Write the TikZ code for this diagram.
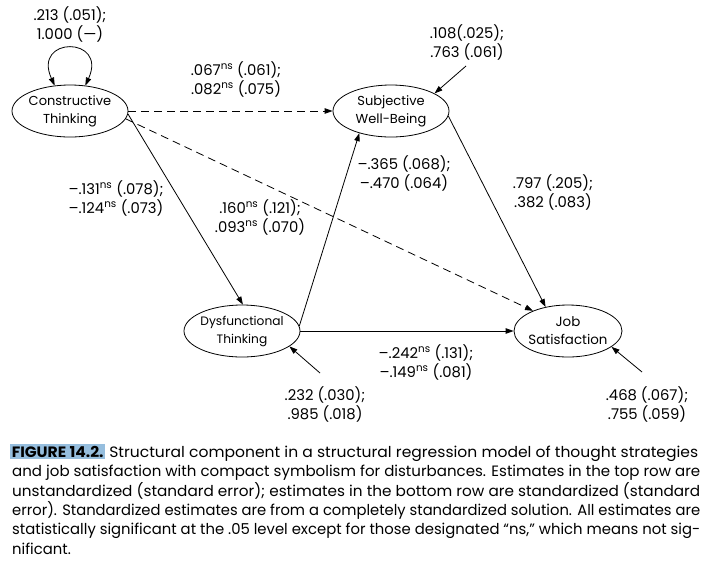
\documentclass[tikz,border=0pt]{standalone}
\usepackage{fontspec}
\setmainfont{Poppins}
\usepackage{graphicx}
\usetikzlibrary{arrows.meta,shapes.geometric}
\definecolor{figblue}{RGB}{150,190,222}
\newcommand\nsup{\textsuperscript{ns}}
\newcommand\capfont{\fontsize{15}{19}\selectfont}
\newcommand\capline[1]{\resizebox{688pt}{\height}{\capfont\strut #1}}
\newlength\capw
\begin{document}
\settowidth\capw{\capfont statistically significant at the .05 level except for those designated “ns,” which means not sig-}
\pgfmathsetmacro\capscale{688/\capw}
\begin{tikzpicture}[x=1pt,y=-1pt,
  lv/.style={ellipse,draw,line width=0.8pt,minimum width=116pt,minimum height=52pt,
    inner xsep=-16pt,inner ysep=-6pt,align=center,font=\fontsize{13}{18}\selectfont},
  lab/.style={align=center,inner sep=0pt,font=\fontsize{14.8}{19}\selectfont},
  arr/.style={line width=0.8pt,-{Triangle[length=8pt,width=5.5pt]}},
  arrb/.style={line width=0.8pt,{Triangle[length=8pt,width=5.5pt]}-{Triangle[length=8pt,width=5.5pt]}},
  dsh/.style={dash pattern=on 8pt off 5pt},
  capl/.style={anchor=base west,inner sep=0pt}]
\useasboundingbox (0,0) rectangle (712,566);
% latent variables
\node[lv] (ct) at (70,111) {Constructive\\Thinking};
\node[lv] (sw) at (391,111) {Subjective\\Well-Being};
\node[lv,font=\fontsize{12.2}{18}\selectfont] (dt) at (242,331) {Dysfunctional\\Thinking};
\node[lv,minimum width=108pt,font=\fontsize{13.4}{18}\selectfont] (js) at (568,331) {Job\\Satisfaction};
% paths
\draw[arrb] (ct.121) .. controls (32,36) and (108,36) .. (ct.59);
\draw[arr,dsh] (ct.east) -- (sw.west);
\draw[arr,dsh] (ct.-8) -- (js.150);
\draw[arr] (ct.-3) -- (dt.88);
\draw[arr] (dt.5) -- (sw.-145);
\draw[arr] (dt.east) -- (js.west);
\draw[arr] (sw.-5) -- (js.133);
% disturbances
\coordinate (dsw) at (466,66);
\coordinate (ddt) at (320,373);
\coordinate (djs) at (642,372);
\draw[arr] (dsw) -- (sw.22);
\draw[arr] (ddt) -- (dt.-18);
\draw[arr] (djs) -- (js.-20);
% labels
\node[lab] (l1) at (70,24) {.213 (.051);\\1.000 (—)};
\node[lab] (l2) at (236,79) {.067\nsup{} (.061);\\.082\nsup{} (.075)};
\node[lab] (l3) at (116,198) {–.131\nsup{} (.078);\\–.124\nsup{} (.073)};
\node[lab] (l4) at (260,217) {.160\nsup{} (.121);\\.093\nsup{} (.070)};
\node[lab] (l5) at (467,42) {.108(.025);\\.763 (.061)};
\node[lab] (l6) at (404,173) {–.365 (.068);\\–.470 (.064)};
\node[lab] (l7) at (553,192) {.797 (.205);\\.382 (.083)};
\node[lab] (l8) at (426,362) {–.242\nsup{} (.131);\\–.149\nsup{} (.081)};
\node[lab] (l9) at (325,404) {.232 (.030);\\.985 (.018)};
\node[lab] (l10) at (647,404) {.468 (.067);\\.755 (.059)};
% caption
\setlength\fboxsep{1.5pt}
\node[capl] (c1) at (10,457) {\capline{\colorbox{figblue}{\bfseries FIGURE 14.2.} Structural component in a structural regression model of thought strategies}};
\node[capl] (c2) at (12,476.5) {\capline{and job satisfaction with compact symbolism for disturbances. Estimates in the top row are}};
\node[capl] (c3) at (12,496) {\capline{unstandardized (standard error); estimates in the bottom row are standardized (standard}};
\node[capl] (c4) at (12,515) {\capline{error). Standardized estimates are from a completely standardized solution. All estimates are}};
\node[capl] (c5) at (12,534.5) {\capline{statistically significant at the .05 level except for those designated “ns,” which means not sig-}};
\node[capl] (c6) at (12,554) {\scalebox{\capscale}[1]{\capfont\strut nificant.}};
\end{tikzpicture}
\end{document}
